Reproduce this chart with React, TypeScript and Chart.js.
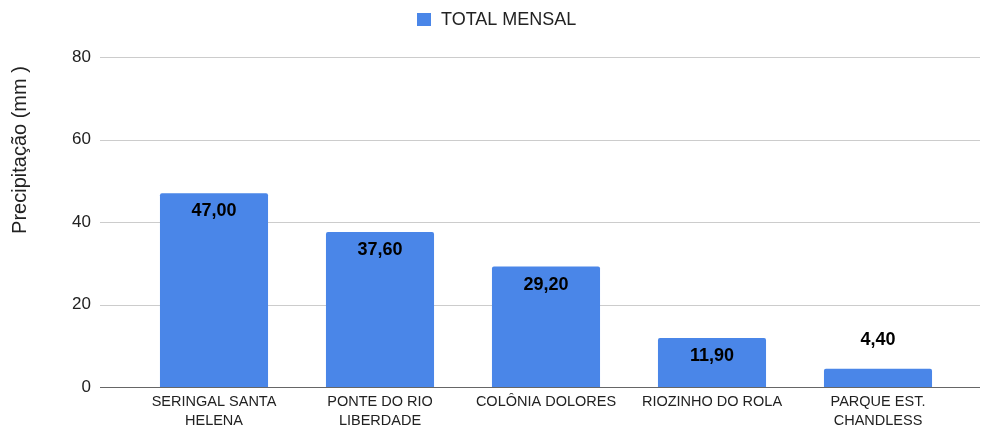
import React, { useEffect, useRef } from "react";
import { Chart, registerables } from "chart.js";

Chart.register(...registerables);

const categories: string[][] = [
  ["SERINGAL SANTA", "HELENA"],
  ["PONTE DO RIO", "LIBERDADE"],
  ["COLÔNIA DOLORES"],
  ["RIOZINHO DO ROLA"],
  ["PARQUE EST.", "CHANDLESS"],
];
const totalMensal: number[] = [47.0, 37.6, 29.2, 11.9, 4.4];
const yTicks: number[] = [0, 20, 40, 60, 80];
const seriesName = "TOTAL MENSAL";
const yTitle = "Precipitação (mm )";

const FONT = "'Liberation Sans', Arial, sans-serif";
const BAR = "#4a86e8";

const decorPlugin = {
  id: "decor",
  beforeDatasetsDraw(chart: any) {
    const { ctx } = chart;
    const y = chart.scales.y;
    ctx.save();
    ctx.lineWidth = 1;
    ctx.strokeStyle = "#cccccc";
    yTicks.forEach((t) => {
      if (t === 0) return;
      const py = Math.round(y.getPixelForValue(t)) + 0.5;
      ctx.beginPath();
      ctx.moveTo(100, py);
      ctx.lineTo(980, py);
      ctx.stroke();
    });
    ctx.restore();
  },
  afterDatasetsDraw(chart: any) {
    const { ctx } = chart;
    const y = chart.scales.y;
    const meta = chart.getDatasetMeta(0);
    ctx.save();
    ctx.strokeStyle = "#666666";
    ctx.lineWidth = 1;
    const by = Math.round(y.getPixelForValue(0)) + 0.5;
    ctx.beginPath();
    ctx.moveTo(100, by);
    ctx.lineTo(980, by);
    ctx.stroke();
    ctx.fillStyle = "#000000";
    ctx.font = `bold 18px ${FONT}`;
    ctx.textAlign = "center";
    ctx.textBaseline = "middle";
    meta.data.forEach((bar: any, i: number) => {
      const v = totalMensal[i];
      const h = bar.base - bar.y;
      const label = v.toFixed(2).replace(".", ",");
      const ly = h > 32 ? bar.y + 18 : bar.y - 29;
      ctx.fillText(label, bar.x, ly);
    });
    ctx.fillStyle = BAR;
    ctx.fillRect(417, 13, 14, 13);
    ctx.fillStyle = "#222222";
    ctx.font = `18px ${FONT}`;
    ctx.textAlign = "left";
    ctx.textBaseline = "middle";
    ctx.fillText(seriesName, 441, 20);
    ctx.translate(20, 150);
    ctx.rotate(-Math.PI / 2);
    ctx.textAlign = "center";
    ctx.fillStyle = "#222222";
    ctx.font = `20px ${FONT}`;
    ctx.fillText(yTitle, 0, 0);
    ctx.restore();
  },
};

export default function App() {
  const ref = useRef<HTMLCanvasElement | null>(null);
  useEffect(() => {
    document.body.style.margin = "0";
    if (!ref.current) return;
    const chart = new Chart(ref.current, {
      type: "bar",
      data: {
        labels: categories,
        datasets: [
          {
            label: seriesName,
            data: totalMensal,
            backgroundColor: BAR,
            borderRadius: { topLeft: 2, topRight: 2, bottomLeft: 0, bottomRight: 0 },
            borderSkipped: false,
            categoryPercentage: 1,
            barPercentage: 0.651,
          },
        ],
      },
      options: {
        animation: false,
        responsive: true,
        maintainAspectRatio: false,
        devicePixelRatio: 1,
        layout: { padding: { top: 57, right: 20, left: 0, bottom: 0 } },
        plugins: {
          legend: { display: false },
          tooltip: { enabled: false },
        },
        scales: {
          x: {
            grid: { display: false, drawTicks: false },
            border: { display: false },
            ticks: {
              font: { family: FONT, size: 14.5, lineHeight: 1.3 },
              color: "#222222",
              padding: 6,
              maxRotation: 0,
              autoSkip: false,
            },
            afterFit(scale: any) {
              scale.height = 40;
              scale.paddingLeft = 0;
              scale.paddingRight = 0;
            },
          },
          y: {
            min: 0,
            max: 80,
            grid: { display: false, drawTicks: false },
            border: { display: false },
            ticks: {
              stepSize: 20,
              font: { family: FONT, size: 17 },
              color: "#222222",
              padding: 40,
            },
            afterFit(scale: any) {
              scale.width = 131;
              scale.paddingTop = 0;
              scale.paddingBottom = 0;
            },
          },
        },
      },
      plugins: [decorPlugin],
    });
    return () => chart.destroy();
  }, []);
  return (
    <div style={{ position: "relative", width: 981, height: 427 }}>
      <canvas ref={ref} />
    </div>
  );
}
